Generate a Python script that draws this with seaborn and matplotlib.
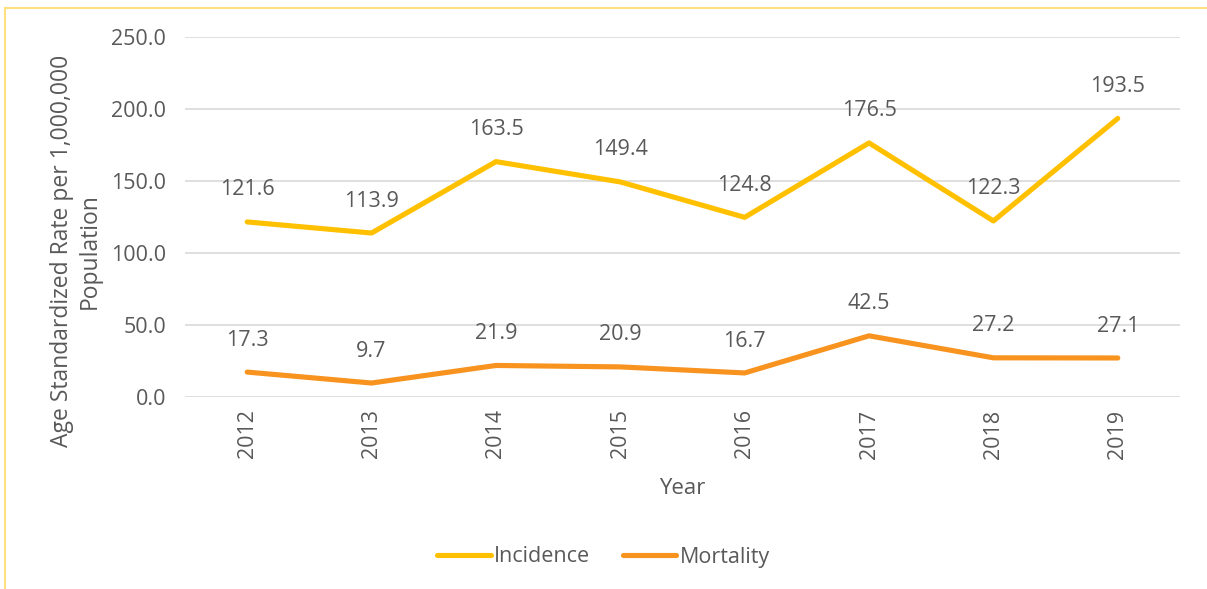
import pandas as pd
import seaborn as sns
import matplotlib.pyplot as plt
from matplotlib.patches import Rectangle

years = ["2012", "2013", "2014", "2015", "2016", "2017", "2018", "2019"]
incidence = [121.6, 113.9, 163.5, 149.4, 124.8, 176.5, 122.3, 193.5]
mortality = [17.3, 9.7, 21.9, 20.9, 16.7, 42.5, 27.2, 27.1]
series = ["Incidence", "Mortality"]
colors = ["#FFC000", "#F7931E"]

df = pd.DataFrame({
    "Year": years * 2,
    "Rate": incidence + mortality,
    "Series": [series[0]] * len(years) + [series[1]] * len(years),
})

sns.set_style("white")
plt.rcParams["font.family"] = ["Open Sans", "DejaVu Sans"]
text_col = "#595959"
fs = 15.5

fig = plt.figure(figsize=(12.07, 5.89), dpi=100)
ax = fig.add_axes([0.1533, 0.326, 0.8243, 0.611])

sns.lineplot(data=df, x="Year", y="Rate", hue="Series", palette=colors,
             linewidth=3.7, sort=False, ax=ax)
for line in ax.get_lines():
    line.set_solid_capstyle("round")
    line.set_solid_joinstyle("round")

ax.set_xlim(-0.5, len(years) - 0.5)
ax.set_ylim(0, 250)
ax.set_yticks(range(0, 251, 50))
ax.set_yticklabels([f"{v:.1f}" for v in range(0, 251, 50)])
ax.yaxis.grid(True, color="#d9d9d9", linewidth=1.2)
ax.set_axisbelow(True)
for s in ax.spines.values():
    s.set_visible(False)
ax.tick_params(axis="both", length=0, labelsize=fs, colors=text_col, pad=13.5)
ax.tick_params(axis="x", rotation=90, pad=9)

ax.set_xlabel("Year", fontsize=fs + 0.5, color=text_col, labelpad=14)
ax.set_ylabel("")
# y title sits a bit lower than the plot centre, like the original
fig.text(76 / 1207, 1 - 251 / 589, "Age Standardized Rate per 1,000,000\nPopulation",
         rotation=90, ha="center", va="center", multialignment="center",
         fontsize=16.5, color=text_col, linespacing=1.2)

# data labels
for vals in (incidence, mortality):
    for i, v in enumerate(vals):
        ax.annotate(f"{v:.1f}", (i, v), xytext=(0, 23), textcoords="offset points",
                    ha="center", va="center", fontsize=fs, color=text_col)

handles, labels = ax.get_legend_handles_labels()
ax.get_legend().remove()
fig.legend(handles, labels, loc="center", bbox_to_anchor=(0.5, 1 - 557 / 589),
           ncol=2, frameon=False, fontsize=fs, handlelength=2.5,
           handletextpad=0.15, columnspacing=1.5, labelcolor=text_col)

# outer chart border
fig.patches.append(Rectangle((5 / 1207, -0.1), 1.2, 1 - 8 / 589 + 0.1,
                             transform=fig.transFigure, fill=False,
                             edgecolor="#FFE07F", linewidth=1.5))

fig.savefig("out.png", dpi=100)
